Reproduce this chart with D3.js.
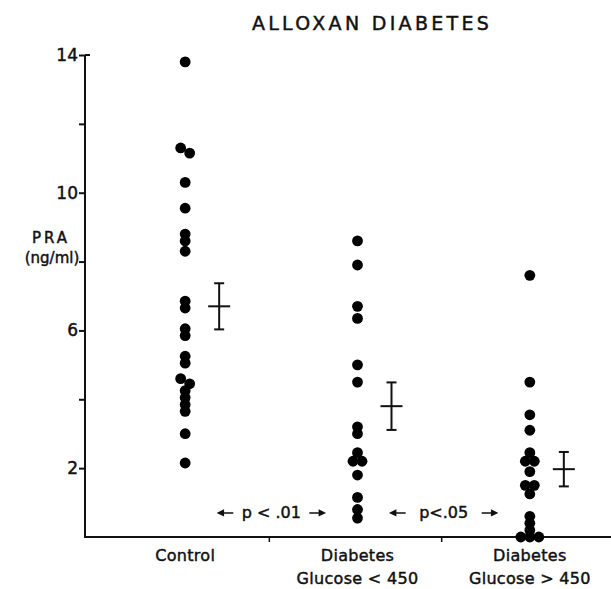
<!DOCTYPE html>
<html>
<head>
<meta charset="utf-8">
<script src="https://cdn.jsdelivr.net/npm/d3@7"></script>
<style>
  body { margin: 0; background: #fff; }
  text { font-family: "DejaVu Sans", sans-serif; fill: #111; stroke: #111; stroke-width: 0.45px; }
</style>
</head>
<body>
<div id="chart"></div>
<script>
const categories = ["Control", "Diabetes <450", "Diabetes >450"];
const categoryLabels = [["Control"], ["Diabetes", "Glucose  < 450"], ["Diabetes", "Glucose  > 450"]];

const controlValues = [13.8, 11.3, 11.15, 10.3, 9.55, 8.8, 8.6, 8.3, 6.85, 6.65, 6.05, 5.85,
  5.25, 5.05, 4.6, 4.45, 4.25, 4.05, 3.85, 3.65, 3.0, 2.15];
const lowGlucoseValues = [8.6, 7.9, 6.7, 6.35, 5.0, 4.5, 3.2, 3.0, 2.45, 2.2, 2.2, 1.8, 1.15, 0.8, 0.55];
const highGlucoseValues = [7.6, 4.5, 3.55, 3.1, 2.45, 2.2, 2.2, 1.9, 1.5, 1.5, 1.25, 0.6, 0.4, 0.2, 0, 0, 0];

const groupMeans = [6.7, 3.8, 1.97];
const groupSems = [0.67, 0.69, 0.5];

const pLabels = ["p < .01", "p<.05"];
const yTicks = [2, 4, 6, 8, 10, 12, 14];
const yTickLabels = [2, 6, 10, 14];

const width = 611;
const height = 589;

const svg = d3.select('#chart')
  .append('svg')
    .attr('width', width)
    .attr('height', height);

const x = d3.scaleBand()
  .domain(categories)
  .range([99, 616])
  .padding(0);

const y = d3.scaleLinear()
  .domain([0, 14])
  .range([537, 55]);

// title
svg.append('text')
  .attr('x', 372)
  .attr('y', 30)
  .attr('text-anchor', 'middle')
  .attr('font-size', 19)
  .attr('letter-spacing', 3.3)
  .text('ALLOXAN DIABETES');

// y axis
const yAxis = svg.append('g')
  .attr('transform', 'translate(85,0)')
  .call(d3.axisLeft(y)
    .tickValues(yTicks)
    .tickSize(6)
    .tickFormat(d => yTickLabels.includes(d) ? d : ''));
yAxis.select('.domain').attr('d', `M0,${y(14)}V${y(0)}`).attr('stroke', '#111').attr('stroke-width', 2);
yAxis.selectAll('.tick line').attr('stroke', '#111').attr('stroke-width', 2);
yAxis.selectAll('.tick text')
  .attr('x', -7)
  .attr('font-size', 17)
  .attr('font-family', '"DejaVu Sans", sans-serif')
  .attr('fill', '#111')
  .attr('stroke', '#111')
  .attr('stroke-width', 0.6);
svg.append('line')
  .attr('x1', 85).attr('x2', 90)
  .attr('y1', y(14)).attr('y2', y(14))
  .attr('stroke', '#111').attr('stroke-width', 2);

// y label
svg.append('text')
  .attr('x', 51).attr('y', 243)
  .attr('text-anchor', 'middle')
  .attr('font-size', 15)
  .attr('letter-spacing', 3)
  .text('PRA');
svg.append('text')
  .attr('x', 52).attr('y', 263)
  .attr('text-anchor', 'middle')
  .attr('font-size', 15)
  .text('(ng/ml)');

// x axis
svg.append('line')
  .attr('x1', 84).attr('x2', width)
  .attr('y1', y(0)).attr('y2', y(0))
  .attr('stroke', '#111').attr('stroke-width', 2);

svg.selectAll('.x-tick')
  .data(categories.slice(1))
  .join('line')
    .attr('class', 'x-tick')
    .attr('x1', d => x(d) - 2).attr('x2', d => x(d) - 2)
    .attr('y1', y(0)).attr('y2', y(0) + 5)
    .attr('stroke', '#111').attr('stroke-width', 1.5);

// category labels
const catLabel = svg.selectAll('.cat-label')
  .data(categories)
  .join('text')
    .attr('class', 'cat-label')
    .attr('text-anchor', 'middle')
    .attr('font-size', 16)
    .attr('letter-spacing', 0.3)
    .attr('x', d => x(d) + x.bandwidth() / 2)
    .attr('y', 561);
catLabel.selectAll('tspan')
  .data((d, i) => categoryLabels[i])
  .join('tspan')
    .attr('x', function () { return this.parentNode.getAttribute('x'); })
    .attr('dy', (d, i) => i === 0 ? 0 : 23)
    .text(d => d);

// dots: rows of near-equal values spread sideways
const allGroups = [controlValues, lowGlucoseValues, highGlucoseValues];
const dotR = 5.4;
const step = 9;
allGroups.forEach((vals, gi) => {
  const sorted = vals.slice().sort((a, b) => b - a);
  const rows = [];
  sorted.forEach(v => {
    const last = rows[rows.length - 1];
    if (last && Math.abs(y(v) - y(last[0])) < 6) last.push(v);
    else rows.push([v]);
  });
  const pts = [];
  rows.forEach(row => row.forEach((v, i) => pts.push({ v, off: (i - (row.length - 1) / 2) * step })));
  const cx = x(categories[gi]) + x.bandwidth() / 2;
  svg.append('g')
    .selectAll('circle')
    .data(pts)
    .join('circle')
      .attr('cx', d => cx + d.off)
      .attr('cy', d => y(d.v))
      .attr('r', dotR)
      .attr('fill', '#000');
});

// mean +- SEM
const errG = svg.selectAll('.err')
  .data(categories)
  .join('g')
    .attr('class', 'err')
    .attr('transform', d => `translate(${x(d) + x.bandwidth() / 2 + 34},0)`)
    .attr('stroke', '#111')
    .attr('stroke-width', 2);
errG.append('line')
  .attr('x1', 0).attr('x2', 0)
  .attr('y1', (d, i) => y(groupMeans[i] + groupSems[i]))
  .attr('y2', (d, i) => y(groupMeans[i] - groupSems[i]));
errG.append('line')
  .attr('x1', -5).attr('x2', 5)
  .attr('y1', (d, i) => y(groupMeans[i] + groupSems[i]))
  .attr('y2', (d, i) => y(groupMeans[i] + groupSems[i]));
errG.append('line')
  .attr('x1', -5).attr('x2', 5)
  .attr('y1', (d, i) => y(groupMeans[i] - groupSems[i]))
  .attr('y2', (d, i) => y(groupMeans[i] - groupSems[i]));
errG.append('line')
  .attr('x1', -11).attr('x2', 11)
  .attr('y1', (d, i) => y(groupMeans[i]))
  .attr('y2', (d, i) => y(groupMeans[i]));

// p value annotations between groups
const pG = svg.selectAll('.pval')
  .data(pLabels)
  .join('g')
    .attr('class', 'pval')
    .attr('transform', (d, i) => `translate(${x(categories[i + 1])},${y(0.7)})`);
pG.append('text')
  .attr('text-anchor', 'middle')
  .attr('y', 5)
  .attr('font-size', 16)
  .text(d => d);
pG.append('path')
  .attr('d', 'M-53,0H-38M-53,0l5,-2.5v5z M53,0H38M53,0l-5,-2.5v5z')
  .attr('stroke', '#111')
  .attr('stroke-width', 1.5)
  .attr('fill', '#111');
</script>
</body>
</html>
